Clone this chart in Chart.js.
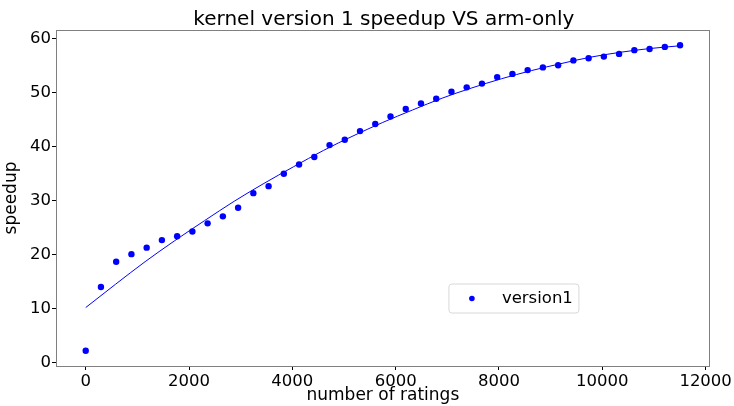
<!DOCTYPE html>
<html>
<head>
<meta charset="utf-8">
<script src="https://cdn.jsdelivr.net/npm/chart.js@4/dist/chart.umd.min.js"></script>
<style>
  html, body { margin: 0; padding: 0; background: #fff; }
  #wrap { width: 734px; height: 406px; position: relative; }
</style>
</head>
<body>
<div id="wrap"><canvas id="c" width="734" height="406"></canvas></div>
<script>
// ---- data ----
const titleText = "kernel version 1 speedup VS arm-only";
const xLabel = "number of ratings";
const yLabel = "speedup";
const seriesName = "version1";

const ratings = [0, 295, 590, 885, 1180, 1475, 1770, 2065, 2360, 2655,
  2950, 3245, 3540, 3835, 4130, 4425, 4720, 5015, 5310, 5605,
  5900, 6195, 6490, 6785, 7080, 7375, 7670, 7965, 8260, 8555,
  8850, 9145, 9440, 9735, 10030, 10325, 10620, 10915, 11210, 11505];
const speedup = [2.2, 14.0, 18.7, 20.1, 21.3, 22.7, 23.4, 24.3, 25.8, 27.1,
  28.7, 31.4, 32.7, 35.0, 36.7, 38.1, 40.3, 41.3, 42.9, 44.2,
  45.6, 47.0, 48.0, 48.9, 50.2, 51.0, 51.7, 52.9, 53.5, 54.2,
  54.7, 55.1, 56.0, 56.4, 56.7, 57.2, 57.9, 58.1, 58.5, 58.8];

// fitted curve
const fitX = [0, 575, 1150, 1725, 2300, 2875, 3450, 4025, 4600, 5175, 5750,
  6325, 6900, 7475, 8050, 8625, 9200, 9775, 10350, 10925, 11500];
const fitY = [10.2, 14.5, 18.7, 22.6, 26.3, 29.9, 33.2, 36.3, 39.3, 42.0, 44.5,
  46.8, 49.0, 50.9, 52.6, 54.1, 55.4, 56.6, 57.5, 58.2, 58.7];

const xTicks = [0, 2000, 4000, 6000, 8000, 10000, 12000];
const yTicks = [0, 10, 20, 30, 40, 50, 60];

const blue = '#0000ff';
const FONT = "'DejaVu Sans', 'Liberation Sans', sans-serif";
Chart.defaults.font.family = FONT;
Chart.defaults.color = '#000';

const framePlugin = {
  id: 'frame',
  afterDraw(chart) {
    const { ctx, chartArea: a } = chart;
    ctx.save();
    ctx.strokeStyle = '#808080';
    ctx.lineWidth = 1;
    ctx.strokeRect(Math.round(a.left) + 0.5, Math.round(a.top) + 0.5,
      Math.round(a.right - a.left) - 1, Math.round(a.bottom - a.top));
    // title
    ctx.fillStyle = '#000';
    ctx.font = "20px " + FONT;
    ctx.textAlign = 'center';
    ctx.textBaseline = 'alphabetic';
    ctx.fillText(titleText, (a.left + a.right) / 2 + 1, 25);
    // legend
    const w = a.right - a.left, h = a.bottom - a.top;
    const lx = a.left + 0.601 * w, ly = a.top + 0.756 * h;
    const bw = 130, bh = 29, r = 3;
    ctx.beginPath();
    ctx.moveTo(lx + r, ly);
    ctx.lineTo(lx + bw - r, ly);
    ctx.quadraticCurveTo(lx + bw, ly, lx + bw, ly + r);
    ctx.lineTo(lx + bw, ly + bh - r);
    ctx.quadraticCurveTo(lx + bw, ly + bh, lx + bw - r, ly + bh);
    ctx.lineTo(lx + r, ly + bh);
    ctx.quadraticCurveTo(lx, ly + bh, lx, ly + bh - r);
    ctx.lineTo(lx, ly + r);
    ctx.quadraticCurveTo(lx, ly, lx + r, ly);
    ctx.closePath();
    ctx.fillStyle = 'rgba(255,255,255,0.8)';
    ctx.fill();
    ctx.strokeStyle = '#d8d8d8';
    ctx.lineWidth = 1;
    ctx.stroke();
    ctx.beginPath();
    ctx.arc(lx + 23, ly + bh / 2, 2.8, 0, Math.PI * 2);
    ctx.fillStyle = blue;
    ctx.fill();
    ctx.fillStyle = '#000';
    ctx.font = "16.5px " + FONT;
    ctx.textAlign = 'left';
    ctx.textBaseline = 'middle';
    ctx.fillText(seriesName, lx + 53, ly + bh / 2);
    ctx.restore();
  }
};

new Chart(document.getElementById('c'), {
  type: 'scatter',
  data: {
    datasets: [
      {
        label: seriesName,
        data: ratings.map((x, i) => ({ x: x, y: speedup[i] })),
        backgroundColor: blue,
        borderColor: blue,
        pointRadius: 3.2,
        pointHoverRadius: 3.2,
        borderWidth: 0,
        order: 1
      },
      {
        label: 'fit',
        type: 'line',
        data: fitX.map((x, i) => ({ x: x, y: fitY[i] })),
        borderColor: blue,
        borderWidth: 1,
        pointRadius: 0,
        fill: false,
        cubicInterpolationMode: 'monotone',
        order: 2
      }
    ]
  },
  options: {
    responsive: false,
    animation: false,
    events: [],
    layout: { padding: { top: 30, right: 21, left: 0, bottom: 0 } },
    plugins: {
      legend: { display: false },
      title: { display: false },
      tooltip: { enabled: false }
    },
    scales: {
      x: {
        type: 'linear',
        min: -575,
        max: 12080,
        afterFit(s) { s.height = 40; },
        afterBuildTicks(s) { s.ticks = xTicks.map(v => ({ value: v })); },
        grid: { drawOnChartArea: false, tickLength: 4, color: '#000', tickColor: '#000' },
        border: { display: false },
        ticks: { font: { size: 16.5 }, color: '#000', padding: 2, maxRotation: 0, autoSkip: false,
          callback: v => String(v) },
        title: { display: true, text: xLabel, font: { size: 17 }, color: '#000', padding: { top: 0, bottom: 0 } }
      },
      y: {
        type: 'linear',
        min: -0.63,
        max: 61.63,
        afterFit(s) { s.width = 56; },
        afterBuildTicks(s) { s.ticks = yTicks.map(v => ({ value: v })); },
        grid: { drawOnChartArea: false, tickLength: 4, color: '#000', tickColor: '#000' },
        border: { display: false },
        ticks: { font: { size: 16.5 }, color: '#000', padding: 1, autoSkip: false,
          callback: v => String(v) },
        title: { display: true, text: yLabel, font: { size: 17 }, color: '#000', padding: { top: 1, bottom: 0 } }
      }
    }
  },
  plugins: [framePlugin]
});
</script>
</body>
</html>
